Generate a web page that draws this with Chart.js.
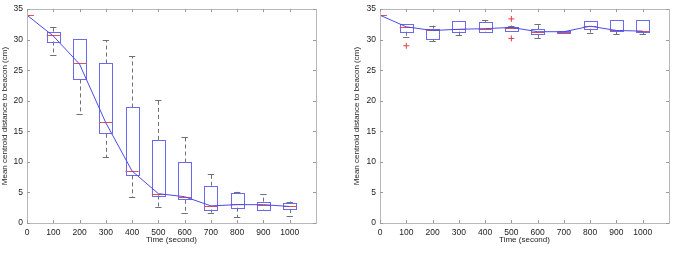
<!DOCTYPE html>
<html lang="en">
<head>
    <meta charset="UTF-8">
    <title>Mean centroid distance to beacon</title>
    <script src="https://cdn.jsdelivr.net/npm/chart.js"></script>
    <style>
        body {
            margin: 0;
            background: #fff;
            font-family: "Liberation Sans", Arial, sans-serif;
        }
        .wrap {
            display: flex;
            width: 684px;
            height: 254px;
        }
    </style>
</head>
<body>
    <div class="wrap">
        <canvas id="leftChart" width="340" height="254"></canvas>
        <canvas id="rightChart" width="344" height="254"></canvas>
    </div>
    <script>
        // time points (seconds)
        const times = [0, 100, 200, 300, 400, 500, 600, 700, 800, 900, 1000];
        const xTicks = [0, 100, 200, 300, 400, 500, 600, 700, 800, 900, 1000];
        const yTicks = [0, 5, 10, 15, 20, 25, 30, 35];

        // left panel
        const leftMean = [34, 30.6, 26.0, 16.4, 8.5, 4.8, 4.3, 2.8, 3.0, 3.0, 2.7];
        const leftMed  = [34, 30.7, 26.1, 16.6, 8.5, 4.8, 4.3, 2.8, 3.1, 3.0, 2.7];
        const leftQ1   = [34, 29.7, 23.5, 14.6, 7.8, 4.5, 3.8, 2.2, 2.5, 2.2, 2.3];
        const leftQ3   = [34, 31.3, 30.1, 26.1, 18.9, 13.6, 9.9, 6.1, 4.9, 3.5, 3.2];
        const leftLo   = [34, 27.5, 17.8, 10.8, 4.2, 2.6, 1.7, 1.7, 0.9, 2.1, 1.2];
        const leftHi   = [34, 32.0, 30.1, 29.9, 27.3, 20.1, 14.0, 8.0, 5.1, 4.7, 3.5];
        const leftOutT = [];
        const leftOutY = [];

        // right panel
        const rightMean = [34, 32.1, 31.5, 31.7, 31.8, 32.0, 31.3, 31.3, 32.2, 31.5, 31.4];
        const rightMed  = [34, 32.0, 31.5, 31.8, 31.8, 31.9, 31.3, 31.2, 32.2, 31.5, 31.4];
        const rightQ1   = [34, 31.3, 30.1, 31.3, 31.3, 31.4, 30.9, 31.1, 31.8, 31.4, 31.3];
        const rightQ3   = [34, 32.6, 31.8, 33.1, 32.9, 32.0, 31.7, 31.4, 33.1, 33.2, 33.2];
        const rightLo   = [34, 30.5, 29.7, 30.7, 31.2, 31.4, 30.3, 31.1, 31.1, 30.9, 30.9];
        const rightHi   = [34, 32.6, 32.3, 33.1, 33.2, 32.3, 32.6, 31.4, 33.1, 33.2, 33.2];
        const rightOutT = [100, 500, 500];
        const rightOutY = [29.0, 33.4, 30.2];

        const BOX_HALF = 25;   // in x units
        const CAP_HALF = 12;

        // frame, inward ticks, boxes
        const boxPlugin = {
            id: 'boxes',
            beforeDatasetsDraw(chart, args, opts) {
                const {ctx, chartArea: a, scales: {x, y}} = chart;
                ctx.save();
                ctx.beginPath();
                ctx.rect(a.left, a.top, a.right - a.left, a.bottom - a.top);
                ctx.clip();
                opts.q1.forEach((q1, i) => {
                    const t = times[i];
                    const px = x.getPixelForValue(t);
                    const hw = x.getPixelForValue(t + BOX_HALF) - px;
                    const cw = x.getPixelForValue(t + CAP_HALF) - px;
                    const yq1 = y.getPixelForValue(q1);
                    const yq3 = y.getPixelForValue(opts.q3[i]);
                    const ylo = y.getPixelForValue(opts.lo[i]);
                    const yhi = y.getPixelForValue(opts.hi[i]);
                    const ymed = y.getPixelForValue(opts.med[i]);
                    const cx = Math.round(px) + 0.5;

                    // whiskers
                    ctx.strokeStyle = '#707070';
                    ctx.lineWidth = 1;
                    ctx.setLineDash([4, 3]);
                    ctx.beginPath();
                    ctx.moveTo(cx, yq3); ctx.lineTo(cx, yhi);
                    ctx.moveTo(cx, yq1); ctx.lineTo(cx, ylo);
                    ctx.stroke();
                    ctx.setLineDash([]);
                    ctx.beginPath();
                    ctx.moveTo(px - cw, Math.round(yhi) + 0.5); ctx.lineTo(px + cw, Math.round(yhi) + 0.5);
                    ctx.moveTo(px - cw, Math.round(ylo) + 0.5); ctx.lineTo(px + cw, Math.round(ylo) + 0.5);
                    ctx.stroke();

                    // box
                    ctx.strokeStyle = '#6a6af0';
                    ctx.strokeRect(Math.round(px - hw) + 0.5, Math.round(yq3) + 0.5,
                        Math.round(2 * hw), Math.round(yq1 - yq3));

                    // median
                    ctx.strokeStyle = '#e05050';
                    ctx.beginPath();
                    ctx.moveTo(px - hw, Math.round(ymed) + 0.5);
                    ctx.lineTo(px + hw, Math.round(ymed) + 0.5);
                    ctx.stroke();
                });
                ctx.restore();
            },
            afterDraw(chart) {
                const {ctx, chartArea: a, scales: {x, y}} = chart;
                ctx.save();
                ctx.strokeStyle = '#b8b8b8';
                ctx.lineWidth = 1;
                ctx.strokeRect(Math.round(a.left) + 0.5, Math.round(a.top) + 0.5,
                    Math.round(a.right - a.left), Math.round(a.bottom - a.top));
                ctx.strokeStyle = '#9a9a9a';
                ctx.beginPath();
                yTicks.forEach(v => {
                    const py = Math.round(y.getPixelForValue(v)) + 0.5;
                    ctx.moveTo(a.left, py); ctx.lineTo(a.left + 3, py);
                    ctx.moveTo(a.right, py); ctx.lineTo(a.right - 3, py);
                });
                xTicks.forEach(v => {
                    const px = Math.round(x.getPixelForValue(v)) + 0.5;
                    ctx.moveTo(px, a.bottom); ctx.lineTo(px, a.bottom - 3);
                    ctx.moveTo(px, a.top); ctx.lineTo(px, a.top + 3);
                });
                ctx.stroke();
                ctx.restore();
            }
        };

        function makeChart(id, mean, box, outT, outY, axisW, titlePad, rightPad) {
            const font = {family: '"Liberation Sans", Arial, sans-serif', size: 8};
            const tickFont = {family: '"Liberation Sans", Arial, sans-serif', size: 8.5};
            return new Chart(document.getElementById(id), {
                type: 'line',
                data: {
                    datasets: [{
                        data: times.map((t, i) => ({x: t, y: mean[i]})),
                        borderColor: '#4b4be6',
                        borderWidth: 1,
                        pointRadius: 0,
                        tension: 0
                    }, {
                        type: 'scatter',
                        data: outT.map((t, i) => ({x: t, y: outY[i]})),
                        pointStyle: 'cross',
                        pointRadius: 3,
                        borderColor: '#e04040',
                        borderWidth: 1
                    }]
                },
                options: {
                    responsive: false,
                    animation: false,
                    devicePixelRatio: 1,
                    layout: {padding: {top: 4, right: rightPad, left: 0, bottom: 0}},
                    plugins: {
                        legend: {display: false},
                        tooltip: {enabled: false},
                        boxes: box
                    },
                    scales: {
                        x: {
                            type: 'linear',
                            min: 0,
                            max: 1100,
                            afterBuildTicks: s => { s.ticks = xTicks.map(v => ({value: v})); },
                            afterFit: s => { s.height = 31; },
                            grid: {display: false, drawTicks: false},
                            border: {display: false},
                            ticks: {font: tickFont, color: '#222', padding: 5, maxRotation: 0, autoSkip: false,
                                callback: v => String(v)},
                            title: {display: true, text: 'Time (second)', font, color: '#222', padding: {top: 0, bottom: 9}}
                        },
                        y: {
                            min: 0,
                            max: 35,
                            afterBuildTicks: s => { s.ticks = yTicks.map(v => ({value: v})); },
                            afterFit: s => { s.width = axisW; },
                            grid: {display: false, drawTicks: false},
                            border: {display: false},
                            ticks: {font: tickFont, color: '#222', padding: 4},
                            title: {display: true, text: 'Mean centroid distance to beacon (cm)', font, color: '#222', padding: {top: titlePad, bottom: 0}}
                        }
                    }
                },
                plugins: [boxPlugin]
            });
        }

        makeChart('leftChart', leftMean,
            {q1: leftQ1, q3: leftQ3, med: leftMed, lo: leftLo, hi: leftHi},
            leftOutT, leftOutY, 27, 0, 24);
        makeChart('rightChart', rightMean,
            {q1: rightQ1, q3: rightQ3, med: rightMed, lo: rightLo, hi: rightHi},
            rightOutT, rightOutY, 40, 12, 15);
    </script>
</body>
</html>
